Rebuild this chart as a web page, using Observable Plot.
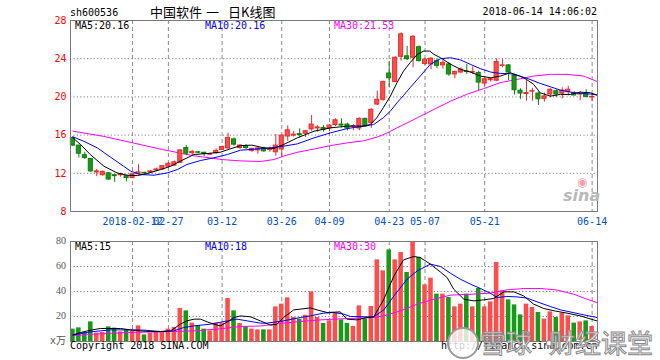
<!DOCTYPE html>
<html><head><meta charset="utf-8">
<script src="https://cdn.jsdelivr.net/npm/d3@7"></script>
<script src="https://cdn.jsdelivr.net/npm/@observablehq/plot@0.6"></script>
<style>
body{margin:0;background:#fff;}
#wrap{position:relative;width:660px;height:360px;overflow:hidden;font-family:"DejaVu Sans Mono",monospace;font-size:10px;background:#fff;}
.t{position:absolute;white-space:nowrap;line-height:1;}
.pl{position:absolute;left:0;}
</style></head>
<body><div id="wrap"></div>
<script>
// ---------- data ----------
const titleParts = ["中国软件", "一", "日K线图"];
const code = "sh600536";
const stamp = "2018-06-14 14:06:02";
const tickIdx = [10,16,25,35,43,53,59,69,87];
const tickLabels = ["2018-02-12","02-27","03-12","03-26","04-09","04-23","05-07","05-21","06-14"];
const priceTicks = [8,12,16,20,24,28];
const volTicks = [0,20,40,60,80];
const volTickLabels = ["x万","20","40","60","80"];
const maPriceLabels = ["MA5:20.16","MA10:20.16","MA30:21.53"];
const maVolLabels = ["MA5:15","MA10:18","MA30:30"];
const watermarkParts = ["雪球", "·", "财经课堂"];

const open = [15.7,14.9,13.9,13.5,12.1,11.8,12.0,11.8,11.8,11.7,11.5,11.9,12.05,12.1,12.3,12.4,12.7,12.8,13.1,14.65,
14.1,14.2,14.15,13.95,14.1,14.45,14.6,15.55,14.65,14.85,14.35,14.4,14.6,14.45,14.2,14.5,15.85,15.95,16.1,16.15,
16.6,16.7,16.75,16.7,17.05,17.1,17.1,16.9,16.7,17.7,17.25,19.2,19.7,22.45,21.55,24.2,24.25,24.1,25.2,23.45,
23.4,23.75,23.3,23.4,22.35,22.55,22.65,22.55,22.5,21.4,21.75,21.7,23.25,23.3,22.2,20.65,20.3,20.55,20.35,19.8,
20.25,20.6,20.35,20.5,20.4,20.25,20.3,19.95];
const close = [14.9,14.05,13.6,12.2,12.2,12.15,11.35,11.7,11.9,11.5,11.9,12.1,12.0,12.2,12.4,12.75,13.0,13.15,14.4,14.05,
14.25,14.15,14.05,14.0,14.35,14.75,15.7,15.0,14.9,14.65,14.55,14.6,14.3,14.5,14.9,15.95,16.5,16.05,16.0,16.4,
17.1,16.8,16.55,17.0,17.55,17.0,16.7,16.95,17.7,16.9,18.65,19.7,21.55,21.95,24.1,26.55,23.95,26.3,23.75,23.9,
24.0,23.25,23.55,22.35,22.6,22.85,22.6,22.6,21.5,21.85,21.85,23.65,23.3,22.55,20.7,20.35,20.4,20.6,19.75,20.05,
20.75,20.25,20.65,20.75,20.15,20.3,20.0,20.0];
const high = [15.8,14.95,14.2,13.55,12.4,12.25,12.05,11.85,12.0,11.75,11.95,12.9,12.1,12.3,12.55,12.8,13.1,13.3,14.45,14.9,
14.4,14.3,14.2,14.1,14.55,14.85,16.2,15.7,15.0,15.0,14.65,14.75,14.75,14.75,16.05,16.0,16.95,16.4,16.65,16.5,
18.05,17.0,17.0,17.1,17.7,17.7,17.25,17.1,17.8,17.75,18.75,20.6,21.65,23.7,24.2,26.7,25.3,26.4,25.35,24.05,
24.1,24.0,23.8,23.6,22.7,23.05,23.4,23.15,22.7,22.0,22.0,24.0,23.95,23.4,22.35,20.85,21.75,20.9,20.5,20.4,
20.85,20.75,20.95,21.1,20.55,20.55,20.75,20.25];
const low = [14.8,13.6,13.45,12.1,11.65,11.7,11.25,11.05,11.6,11.1,11.45,11.85,11.9,12.0,12.2,12.35,12.6,12.75,13.05,13.85,
13.85,14.05,13.75,13.85,14.0,14.4,14.5,14.85,14.5,14.5,14.2,14.0,14.2,14.2,13.8,13.75,15.35,15.8,15.7,15.75,
16.4,16.3,16.3,16.35,16.9,16.75,16.45,16.45,16.45,16.85,16.7,19.1,19.55,20.95,21.5,23.75,23.8,23.05,23.65,23.3,
22.85,22.95,22.9,22.15,21.9,22.5,22.35,22.35,20.65,21.1,21.55,21.6,23.05,21.7,20.2,19.75,19.55,19.55,19.1,19.45,
19.9,19.95,19.8,20.1,20.1,19.6,19.9,19.5];
const volume = [9.9,10.9,7.2,15.7,6.7,7.2,11.7,10.7,7.7,9.1,8.3,12.5,5.3,6.4,7.2,7.7,9.9,11.2,26.4,24.5,
14.7,12.5,9.9,8.5,14.7,14.7,34.4,24.5,14.4,12.0,9.9,9.3,9.3,9.3,27.7,29.9,34.9,19.2,17.9,21.0,
39.7,19.2,14.4,16.5,22.7,17.3,14.4,12.0,28.5,17.9,28.0,65.3,56.5,73.3,65.3,71.2,55.2,79.2,67.2,45.3,
50.7,37.9,37.9,35.2,27.7,29.9,37.9,27.7,42.4,27.7,31.7,63.2,40.5,33.3,29.3,21.3,29.9,27.2,23.2,17.9,
23.7,19.2,22.7,20.5,14.7,15.7,16.5,12.0];

// moving-average lines, read as (position, value) points
const ma5Idx = [0,1.3,2.9,5.2,7.4,9.1,10.8,12.4,14.7,16.4,18,20.3,22.5,24.7,26.4,28.1,30,32,33.7,35.3,37.6,40.4,43.2,46,48.7,49.8,50.9,52,53.2,54.3,55.4,56.5,57.7,58.8,59.8,60.5,61.6,63.3,65,66.6,68.3,70,71.6,73.3,74.9,76,77.2,78.3,80,81.7,83.4,85,86.7,87.8];
const ma5Val = [15.71,15.01,13.97,12.74,12.04,11.8,11.76,11.97,12.39,12.74,13.27,13.97,14.07,14.21,14.56,14.9,14.95,14.66,14.6,15.01,15.71,16.41,16.76,16.94,16.94,17.1,17.8,18.86,20.08,21.48,22.7,23.58,24.45,24.8,24.8,24.45,24.1,23.41,22.88,22.6,22.18,22.0,22.18,22.53,22.18,21.83,21.31,20.43,20.08,20.26,20.26,20.5,20.43,20.2];
const ma10Idx = [0,1.8,4.1,6.3,8.5,9.7,11.3,13.6,15.8,17.5,19.1,21.4,23.6,25.9,28.1,29.7,33.1,35.3,37.6,40.4,43.2,46,48.7,50.4,52,53.2,54.3,55.4,56.5,58.2,59.9,61.6,63.3,65,66.6,68.3,70,71.6,73.3,74.9,76.6,78.3,80,81.7,83.4,85,86.7,87.8];
const ma10Val = [15.82,15.36,14.66,13.69,12.74,12.22,11.87,11.8,12.04,12.39,12.92,13.34,13.62,13.97,14.42,14.49,14.66,14.84,15.08,15.71,16.24,16.69,16.94,17.11,17.81,18.51,19.38,20.15,20.96,22.18,23.41,24.0,24.1,23.86,23.41,22.95,22.6,22.46,22.43,22.18,21.83,21.41,21.06,20.71,20.5,20.36,20.3,20.2];
const ma30Idx = [0,5,10,15,20,25,28,31.4,33.7,35.3,37.6,40.9,43.2,46,48.7,51,52.6,54.3,56.6,57.7,60.5,63.3,66,68.8,71.6,74.4,77.2,80,82.8,85.6,87.9];
const ma30Val = [16.41,15.89,15.19,14.49,13.86,13.44,13.3,13.24,13.44,13.8,14.2,14.6,14.9,15.19,15.4,15.8,16.2,16.76,17.46,17.81,18.69,19.56,20.27,20.86,21.49,21.83,22.18,22.36,22.36,22.18,21.6];

const vma5Idx = [0,1.3,3,4.6,8,9.7,11.3,13,14.7,16.4,18,19.1,20.3,21.4,22.5,23.6,24.7,25.9,27,28.1,29.8,31.4,33.1,34.2,35.3,37,38.1,39.8,40.9,42.6,44.8,45.9,47.6,49.3,50.4,52.1,53.8,55.4,57.1,58.2,59.9,61.6,62.7,63.8,65.5,67.2,68.8,70.5,72.2,73.9,75.5,77.2,78.9,80.9,82.8,85,87.8];
const vma5Val = [5.3,7.2,9.1,10.4,10.4,9.3,8.5,8.0,8.0,8.5,13.9,16.5,17.9,17.9,15.7,13.9,12.5,15.7,19.2,20.5,19.7,16.5,13.1,13.9,19.2,25.3,25.9,26.9,25.3,23.2,23.7,17.9,17.3,19.2,19.7,33.9,52.5,65.3,68.0,67.2,61.9,55.5,51.2,41.9,33.9,32.5,33.3,34.4,39.7,39.7,36.5,29.9,26.4,24.3,22.7,20.5,16.5];
const vma10Idx = [0,2.9,6.3,9.1,11.9,14.7,16.9,18.6,20.3,23.1,25.9,27.5,29.2,31.4,32.5,35.3,38.1,39.8,42,43.7,45.4,46.5,49.3,50.4,52.1,53.8,56,57.7,59.9,61.6,63.3,64.9,66.6,68.3,69.9,71.1,72.7,74.4,76.1,77.8,80,81.7,83.3,85,87.8];
const vma10Val = [5.1,7.7,9.3,9.3,9.1,8.0,8.5,11.2,12.5,13.9,16.5,17.9,16.5,14.7,14.7,16.5,19.2,20.5,22.7,23.2,21.9,20.0,19.7,19.7,25.3,36.5,49.9,56.5,61.9,60.0,54.5,49.9,45.9,42.4,38.7,35.2,36.0,35.7,34.7,31.7,28.0,25.3,23.7,21.9,19.2];
const vma30Idx = [0,3.5,9.1,14.7,20.3,24.2,28.1,31.4,35.3,38.1,40.9,43.7,46.5,50.4,52.1,54.9,57.7,60.5,63.3,67.2,69.9,72.7,75.5,78.3,81,83.9,86.1,87.8];
const vma30Val = [4.5,5.9,7.2,7.7,8.5,9.9,12.0,12.4,14.7,16.0,17.1,17.9,18.4,19.2,20.5,24.5,29.9,33.9,37.1,37.9,38.7,41.3,42.4,42.4,41.3,37.9,33.9,31.2];

// ---------- build ----------
const rows = open.map((o, i) => ({i, open: o, close: close[i], high: high[i], low: low[i], vol: volume[i], up: close[i] >= o}));
const up = rows.filter(d => d.up), dn = rows.filter(d => !d.up);
const pts = (idx, val) => idx.map((x, k) => ({x, y: val[k]}));

const RED_F = "#ff4d4d", RED_S = "#e62a2a", GRN_F = "#179a17", GRN_S = "#0b7f0b";
const BLUE = "#0000ff", MAG = "#ff00ff", GRID = "#808080", FRAME = "#7a7a7a";
const xDomain = [-0.4, 87.9];
const HW = 0.34, VW = 0.38;
const style = {fontFamily: "DejaVu Sans Mono, monospace", fontSize: "10px", background: "transparent"};
const P1H = 235, P2TOP = 235;

const p1 = Plot.plot({
  width: 660, height: P1H,
  marginTop: 20, marginBottom: P1H - 211, marginLeft: 70, marginRight: 63,
  x: {domain: xDomain, label: null},
  y: {domain: [8, 28], label: null},
  style,
  marks: [
    Plot.ruleY([12, 16, 20, 24], {stroke: GRID, strokeDasharray: "1.2,2.2"}),
    Plot.ruleX(tickIdx, {stroke: "#8c8c8c", strokeDasharray: "4,3"}),
    Plot.axisY({ticks: priceTicks, tickSize: 0, tickPadding: 4, color: "#ff0000", fontSize: 10, label: null}),
    Plot.axisX({ticks: tickIdx, tickFormat: d => tickLabels[tickIdx.indexOf(d)], tickSize: 0, tickPadding: 6, color: "#0050c8", fontSize: 10, label: null}),
    Plot.line(pts(ma30Idx, ma30Val), {x: "x", y: "y", stroke: MAG, strokeWidth: 1}),
    Plot.ruleX(up, {x: "i", y1: "low", y2: "high", stroke: RED_S}),
    Plot.ruleX(dn, {x: "i", y1: "low", y2: "high", stroke: GRN_S}),
    Plot.rect(up, {x1: d => d.i - HW, x2: d => d.i + HW, y1: "open", y2: "close", fill: RED_F, stroke: RED_S}),
    Plot.rect(dn, {x1: d => d.i - HW, x2: d => d.i + HW, y1: "open", y2: "close", fill: GRN_F, stroke: GRN_S}),
    Plot.line(pts(ma10Idx, ma10Val), {x: "x", y: "y", stroke: BLUE, strokeWidth: 1}),
    Plot.line(pts(ma5Idx, ma5Val), {x: "x", y: "y", stroke: "#000", strokeWidth: 1}),
    Plot.frame({stroke: FRAME})
  ]
});

const p2 = Plot.plot({
  width: 660, height: 360 - P2TOP,
  marginTop: 241 - P2TOP, marginBottom: 19, marginLeft: 70, marginRight: 63,
  x: {domain: xDomain, label: null, axis: null},
  y: {domain: [0, 80], label: null, axis: null},
  style,
  marks: [
    Plot.ruleY([20, 40, 60], {stroke: GRID, strokeDasharray: "1.2,2.2"}),
    Plot.ruleX(tickIdx, {stroke: "#8c8c8c", strokeDasharray: "4,3"}),
    Plot.rect(up, {x1: d => d.i - VW, x2: d => d.i + VW, y1: 0, y2: "vol", fill: RED_F}),
    Plot.rect(dn, {x1: d => d.i - VW, x2: d => d.i + VW, y1: 0, y2: "vol", fill: GRN_F}),
    Plot.line(pts(vma30Idx, vma30Val), {x: "x", y: "y", stroke: MAG, strokeWidth: 1}),
    Plot.line(pts(vma10Idx, vma10Val), {x: "x", y: "y", stroke: BLUE, strokeWidth: 1}),
    Plot.line(pts(vma5Idx, vma5Val), {x: "x", y: "y", stroke: "#000", strokeWidth: 1}),
    Plot.frame({stroke: FRAME})
  ]
});

const wrap = document.getElementById("wrap");
p1.classList.add("pl"); p1.style.top = "0px";
p2.classList.add("pl"); p2.style.top = P2TOP + "px";
wrap.appendChild(p1); wrap.appendChild(p2);

function txt(s, css) {
  const d = document.createElement("div");
  d.className = "t"; d.textContent = s;
  Object.assign(d.style, css);
  wrap.appendChild(d); return d;
}
// volume tick labels placed with the volume plot's own y scale
const vy = p2.scale("y");
volTicks.forEach((v, k) => txt(volTickLabels[k], {right: (660 - 66) + "px", top: (P2TOP + vy.apply(v) - 5) + "px", color: "#555", fontFamily: k === 0 ? "'DejaVu Sans Mono', 'Noto Sans CJK SC', monospace" : undefined}));

const cjk = "'Noto Sans CJK SC', sans-serif";
txt(code, {left: "70px", top: "8px", color: "#000"});
[150, 206, 228].forEach((x, k) => txt(titleParts[k], {left: x + "px", top: "5px", fontFamily: cjk, fontSize: "13px", color: "#000"}));
txt(stamp, {right: "63px", top: "7px", color: "#000"});
const maCols = ["#000", BLUE, MAG], maX = [75, 205, 334];
maPriceLabels.forEach((s, k) => txt(s, {left: maX[k] + "px", top: "21px", color: maCols[k]}));
maVolLabels.forEach((s, k) => txt(s, {left: maX[k] + "px", top: "242px", color: maCols[k]}));
txt("Copyright 2018 SINA.COM", {left: "70px", top: "341px", color: "#000"});
txt("http://finance.sina.com.cn", {left: "441px", top: "341px", color: "#000"});
// sina watermark in the price panel
txt("sina", {left: "563px", top: "188px", fontFamily: "'DejaVu Sans', sans-serif", fontStyle: "italic", fontWeight: "bold", fontSize: "16px", color: "#b8b8b8"});
txt("◉", {left: "577px", top: "176px", fontFamily: "'DejaVu Sans', sans-serif", fontSize: "12px", color: "#f2a0a8"});
// bottom-right watermark
const logo = document.createElement("div");
Object.assign(logo.style, {position: "absolute", left: "447px", top: "327px", width: "28px", height: "28px", borderRadius: "50%", border: "2px solid #9a9a9a", background: "rgba(255,255,255,0.8)"});
wrap.appendChild(logo);
const wmCss = {top: "329px", fontFamily: cjk, fontSize: "26px", color: "rgba(255,255,255,0.92)", webkitTextStroke: "1px #8a8a8a"};
[480, 536, 549].forEach((x, k) => txt(watermarkParts[k], Object.assign({left: x + "px"}, wmCss)));
</script>
</body></html>
